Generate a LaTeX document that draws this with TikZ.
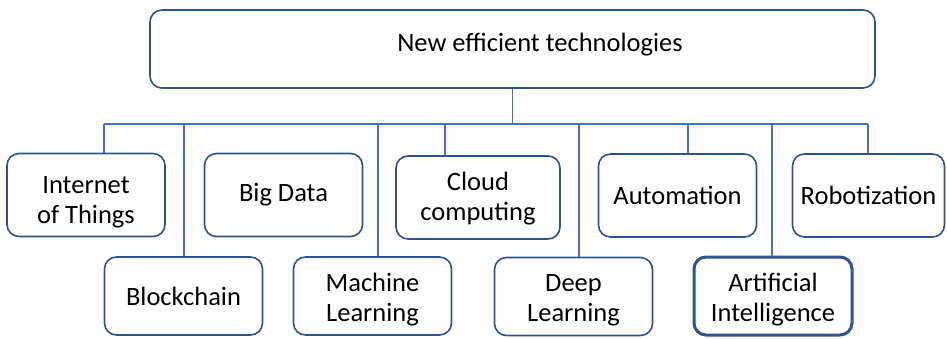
\documentclass[tikz,border=0pt]{standalone}
\usepackage{fontspec}
\setmainfont{Carlito}
\usepackage{xcolor}
\usepackage{tikz}
\definecolor{boxblue}{HTML}{2F528F}
\definecolor{lineblue}{HTML}{4472C4}
\newcommand{\dropby}[1]{\rule{0pt}{#1pt}}

\begin{document}
\begin{tikzpicture}[x=1pt, y=-1pt,
	techbox/.style={draw=boxblue, line width=1.6pt, rounded corners=12pt, minimum width=158pt, minimum height=83pt, align=center, inner sep=0pt, font=\fontsize{26.5}{30}\selectfont},
	lowbox/.style={techbox, minimum height=78pt},
	bus/.style={draw=lineblue, line width=1.5pt}]
	\useasboundingbox (0,0) rectangle (947,338);

	\node [techbox, minimum width=725pt, minimum height=78pt] (top) at (512.5,49) {};
	\node [font=\fontsize{26.5}{30}\selectfont] (toptext) at (540,45) {New efficient technologies};

	\node [techbox] (iot) at (86,195) {\dropby{31}Internet\\of Things};
	\node [techbox] (bigdata) at (283.5,195) {Big Data};
	\node [techbox, minimum width=164pt] (cloud) at (478,197.5) {\dropby{21}Cloud\\computing};
	\node [techbox] (auto) at (677.5,195.5) {Automation};
	\node [techbox, minimum width=152pt] (robot) at (868.5,195.5) {Robotization};

	\node [lowbox] (chain) at (183.5,296) {Blockchain};
	\node [lowbox] (ml) at (372.5,296) {\dropby{25}Machine\\Learning};
	\node [lowbox] (dl) at (573.5,296.5) {\dropby{25}Deep\\Learning};
	\node [lowbox, line width=3pt] (ai) at (773,296) {\dropby{25}Artificial\\Intelligence};

	\foreach \x/\n in {104/iot, 184/chain, 378/ml, 445/cloud, 579/dl, 688/auto, 772/ai, 868/robot} {
		\coordinate (t\n) at (\x,124);
		\draw [bus] (t\n) -- (\n.north -| t\n);
	}
	\draw [bus] (tiot) -- (trobot);
	\draw [bus] (top.south) -- (top.south |- tiot);
\end{tikzpicture}
\end{document}
